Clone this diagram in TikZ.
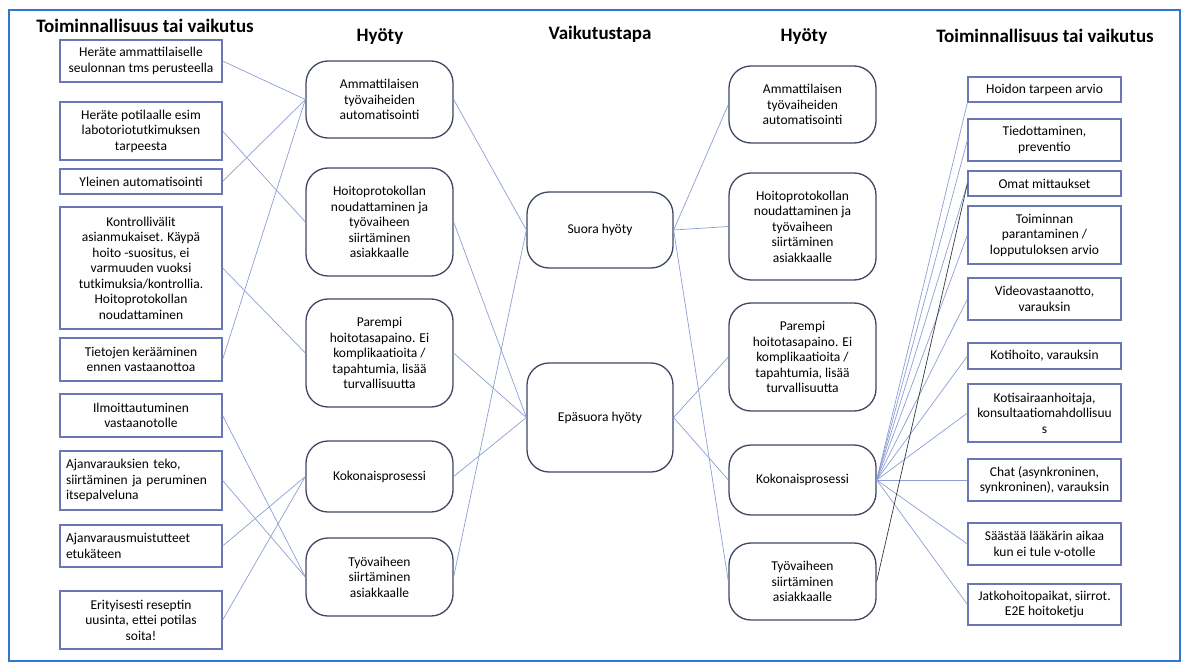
\documentclass[tikz,border=0pt]{standalone}
\usepackage{fontspec}
\setmainfont{Carlito}
\definecolor{framecol}{RGB}{46, 117, 214}
\definecolor{boxstroke}{RGB}{105, 120, 180}
\definecolor{roundstroke}{RGB}{62, 72, 98}
\definecolor{linkcol}{RGB}{140, 158, 212}
\definecolor{darklinkcol}{RGB}{55, 55, 65}
\tikzset{
  % Function / effect boxes (outer columns)
  func/.style={
    rectangle, draw=boxstroke, fill=white, line width=1.2pt,
    minimum width=162pt, inner sep=2pt, align=center,
    font=\fontsize{13.5}{15.5}\selectfont
  },
  func left/.style={func, align=left, text width=150pt},
  rfunc/.style={func, minimum width=153pt},
  %
  % Benefit boxes (rounded)
  benefit/.style={
    rectangle, rounded corners=22pt, draw=roundstroke, fill=white,
    line width=1.3pt, minimum width=147pt, inner sep=2pt, align=center,
    font=\fontsize{13.5}{15.5}\selectfont
  },
  mode/.style={benefit, minimum width=146pt},
  %
  % Column headings
  heading/.style={anchor=base, font=\fontsize{19}{22}\selectfont\bfseries},
  %
  % Connectors
  link/.style={draw=linkcol, line width=0.7pt},
  dark link/.style={link, draw=darklinkcol},
}
\begin{document}
\begin{tikzpicture}[x=1pt, y=-1pt]
  \useasboundingbox (0,0) rectangle (1183,666);
  \draw[framecol, line width=2pt] (9,10) rectangle (1180,661);

  %% ── Headings ──────────────────────────────────────────────────────────────
  \node[heading] (hl)  at (145, 33)   {Toiminnallisuus tai vaikutus};
  \node[heading] (hbl) at (380, 42)   {Hyöty};
  \node[heading] (hm)  at (600, 40)   {Vaikutustapa};
  \node[heading] (hbr) at (804, 42)   {Hyöty};
  \node[heading] (hr)  at (1045, 43)  {Toiminnallisuus tai vaikutus};

  %% ── Left functions ────────────────────────────────────────────────────────
  \node[func, minimum height=42pt]       (lf1) at (141, 61)    {Heräte ammattilaiselle\\seulonnan tms perusteella};
  \node[func, minimum height=58pt]       (lf2) at (141, 131)   {Heräte potilaalle esim\\labotoriotutkimuksen\\tarpeesta};
  \node[func, minimum height=25pt]       (lf3) at (141, 181.5) {Yleinen automatisointi};
  \node[func, minimum height=122pt]      (lf4) at (141, 268)   {Kontrollivälit\\asianmukaiset. Käypä\\hoito -suositus, ei\\varmuuden vuoksi\\tutkimuksia/kontrollia.\\Hoitoprotokollan\\noudattaminen};
  \node[func, minimum height=43pt]       (lf5) at (141, 359.5) {Tietojen kerääminen\\ennen vastaanottoa};
  \node[func, minimum height=43pt]       (lf6) at (141, 415.5) {Ilmoittautuminen\\vastaanotolle};
  \node[func left, minimum height=59pt]  (lf7) at (141, 480.5) {Ajanvarauksien teko,\\siirtäminen ja peruminen\\itsepalveluna};
  \node[func left, minimum height=42pt]  (lf8) at (141, 546)   {Ajanvarausmuistutteet\\etukäteen};
  \node[func, minimum height=58pt]       (lf9) at (141, 620)   {Erityisesti reseptin\\uusinta, ettei potilas\\soita!};

  %% ── Left benefits ─────────────────────────────────────────────────────────
  \node[benefit, minimum height=77pt]  (lb1) at (379.5, 99.5) {Ammattilaisen\\työvaiheiden\\automatisointi};
  \node[benefit, minimum height=108pt] (lb2) at (379.5, 222)  {Hoitoprotokollan\\noudattaminen ja\\työvaiheen\\siirtäminen\\asiakkaalle};
  \node[benefit, minimum height=108pt] (lb3) at (379.5, 353)  {Parempi\\hoitotasapaino. Ei\\komplikaatioita /\\tapahtumia, lisää\\turvallisuutta};
  \node[benefit, minimum height=71pt]  (lb4) at (379.5, 476.5) {Kokonaisprosessi};
  \node[benefit, minimum height=78pt]  (lb5) at (379.5, 577)  {Työvaiheen\\siirtäminen\\asiakkaalle};

  %% ── Mode of effect ────────────────────────────────────────────────────────
  \node[mode, minimum height=76pt]  (direct)   at (600, 230)   {Suora hyöty};
  \node[mode, minimum height=109pt] (indirect) at (600, 417.5) {Epäsuora hyöty};

  %% ── Right benefits ────────────────────────────────────────────────────────
  \node[benefit, minimum height=77pt]  (rb1) at (802.5, 104.5) {Ammattilaisen\\työvaiheiden\\automatisointi};
  \node[benefit, minimum height=107pt] (rb2) at (802.5, 226.5) {Hoitoprotokollan\\noudattaminen ja\\työvaiheen\\siirtäminen\\asiakkaalle};
  \node[benefit, minimum height=108pt] (rb3) at (802.5, 357)   {Parempi\\hoitotasapaino. Ei\\komplikaatioita /\\tapahtumia, lisää\\turvallisuutta};
  \node[benefit, minimum height=70pt]  (rb4) at (802.5, 480)   {Kokonaisprosessi};
  \node[benefit, minimum height=77pt]  (rb5) at (802.5, 581.5) {Työvaiheen\\siirtäminen\\asiakkaalle};

  %% ── Right functions ───────────────────────────────────────────────────────
  \node[rfunc, minimum height=25pt] (rf1)  at (1044.5, 89.5)  {Hoidon tarpeen arvio};
  \node[rfunc, minimum height=42pt] (rf2)  at (1044.5, 140)   {Tiedottaminen,\\preventio};
  \node[rfunc, minimum height=25pt] (rf3)  at (1044.5, 183.5) {Omat mittaukset};
  \node[rfunc, minimum height=58pt] (rf4)  at (1044.5, 235)   {Toiminnan\\parantaminen /\\lopputuloksen arvio};
  \node[rfunc, minimum height=42pt] (rf5)  at (1044.5, 299)   {Videovastaanotto,\\varauksin};
  \node[rfunc, minimum height=26pt] (rf6)  at (1044.5, 356)   {Kotihoito, varauksin};
  \node[rfunc, minimum height=58pt] (rf7)  at (1044.5, 413)   {Kotisairaanhoitaja,\\konsultaatiomahdollisuu\\s};
  \node[rfunc, minimum height=42pt] (rf8)  at (1044.5, 480)   {Chat (asynkroninen,\\synkroninen), varauksin};
  \node[rfunc, minimum height=42pt] (rf9)  at (1044.5, 544)   {Säästää lääkärin aikaa\\kun ei tule v-otolle};
  \node[rfunc, minimum height=41pt] (rf10) at (1044.5, 604.5) {Jatkohoitopaikat, siirrot.\\E2E hoitoketju};

  %% ── Functions -> left benefits ────────────────────────────────────────────
  \draw[link] (lf1.east) -- (lb1.west);
  \draw[link] (lf3.east) -- (lb1.west);
  \draw[link] (lf5.east) -- (lb1.west);
  \draw[link] (lf2.east) -- (lb2.west);
  \draw[link] (lf4.east) -- (lb3.west);
  \draw[link] (lf8.east) -- (lb4.west);
  \draw[link] (lf9.east) -- (lb4.west);
  \draw[link] (lf6.east) -- (lb5.west);
  \draw[link] (lf7.east) -- (lb5.west);

  %% ── Left benefits -> mode ─────────────────────────────────────────────────
  \draw[link] (lb1.east) -- (direct.west);
  \draw[link] (lb5.east) -- (direct.west);
  \draw[link] (lb2.east) -- (indirect.west);
  \draw[link] (lb3.east) -- (indirect.west);
  \draw[link] (lb4.east) -- (indirect.west);

  %% ── Mode -> right benefits ────────────────────────────────────────────────
  \draw[link] (direct.east) -- (rb1.west);
  \draw[link] (direct.east) -- (rb2.west);
  \draw[link] (direct.east) -- (rb5.west);
  \draw[link] (indirect.east) -- (rb3.west);
  \draw[link] (indirect.east) -- (rb4.west);

  %% ── Right benefits -> functions ───────────────────────────────────────────
  \draw[link] (rb4.east) -- (rf1.south west);
  \draw[link] (rb4.east) -- (rf2.west);
  \draw[link] (rb4.east) -- (rf3.west);
  \draw[link] (rb4.east) -- (rf4.west);
  \draw[link] (rb4.east) -- (rf5.west);
  \draw[link] (rb4.east) -- (rf6.west);
  \draw[link] (rb4.east) -- (rf7.west);
  \draw[link] (rb4.east) -- (rf8.west);
  \draw[link] (rb4.east) -- (rf9.west);
  \draw[link] (rb4.east) -- (rf10.west);
  \draw[dark link] (rb5.east) -- (rf3.west);
\end{tikzpicture}
\end{document}
